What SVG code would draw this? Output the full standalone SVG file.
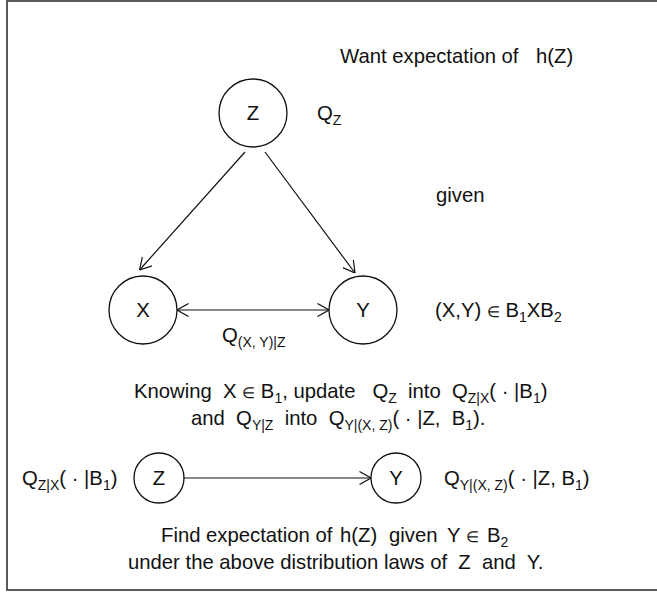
<svg xmlns="http://www.w3.org/2000/svg" width="657" height="593" viewBox="0 0 657 593">
<defs>
<style>
text{font-family:"Liberation Sans",Arial,sans-serif;font-size:20.3px;fill:#111;white-space:pre}
.c{text-anchor:middle}
.s{font-size:14px}
.e{font-size:15px}
.node{fill:none;stroke:#111;stroke-width:1.3}
.edge{fill:none;stroke:#111;stroke-width:1.2}
</style>
<marker id="ah" viewBox="0 0 12 14" refX="12" refY="7" markerWidth="12" markerHeight="14" markerUnits="userSpaceOnUse" orient="auto-start-reverse">
<path d="M0.5,0.5 L12,7 L0.5,13.5" fill="none" stroke="#111" stroke-width="1.2"/>
</marker>
</defs>
<rect x="0" y="0" width="657" height="593" fill="#fff"/>
<rect x="7" y="1" width="700" height="589" fill="none" stroke="#333" stroke-width="1.6"/>

<g id="connectors">
<line class="edge" x1="245" y1="152" x2="139.5" y2="270" marker-end="url(#ah)"/>
<line class="edge" x1="265" y1="152" x2="355" y2="273" marker-end="url(#ah)"/>
<line class="edge" x1="177" y1="310" x2="329" y2="310" marker-start="url(#ah)" marker-end="url(#ah)"/>
<line class="edge" x1="184" y1="478" x2="371" y2="478" marker-end="url(#ah)"/>
</g>

<g id="nodeZ"><circle class="node" cx="253" cy="113" r="34"/><text class="c" x="253" y="120">Z</text></g>
<g id="nodeX"><circle class="node" cx="143" cy="310" r="34"/><text class="c" x="143" y="317">X</text></g>
<g id="nodeY"><circle class="node" cx="363" cy="310" r="34"/><text class="c" x="363" y="317">Y</text></g>
<g id="nodeZ2"><circle class="node" cx="159" cy="478" r="25"/><text class="c" x="159" y="485">Z</text></g>
<g id="nodeY2"><circle class="node" cx="396" cy="478" r="25"/><text class="c" x="396" y="485">Y</text></g>

<g id="labels">
<text x="340" y="63">Want expectation of</text>
<text x="536" y="63">h(Z)</text>
<text x="317" y="120">Q<tspan class="s" dy="5">Z</tspan></text>
<text x="436" y="202">given</text>
<text x="435" y="317">(X,Y) <tspan class="e">∈</tspan> B<tspan class="s" dy="5">1</tspan><tspan dy="-5">XB</tspan><tspan class="s" dy="5">2</tspan></text>
<text x="222" y="342">Q<tspan class="s" dy="5">(X, Y)|Z</tspan></text>
<text x="134" y="398">Knowing  X <tspan class="e">∈</tspan> B<tspan class="s" dy="5">1</tspan><tspan dy="-5">, update   Q</tspan><tspan class="s" dy="5">Z</tspan><tspan dy="-5">  into  Q</tspan><tspan class="s" dy="5">Z|X</tspan><tspan dy="-5">( · |B</tspan><tspan class="s" dy="5">1</tspan><tspan dy="-5">)</tspan></text>
<text x="191" y="425">and  Q<tspan class="s" dy="5">Y|Z</tspan><tspan dy="-5">  into  Q</tspan><tspan class="s" dy="5">Y|(X, Z)</tspan><tspan dy="-5">( · |Z,  B</tspan><tspan class="s" dy="5">1</tspan><tspan dy="-5">).</tspan></text>
<text x="22" y="485">Q<tspan class="s" dy="5">Z|X</tspan><tspan dy="-5">( · |B</tspan><tspan class="s" dy="5">1</tspan><tspan dy="-5">)</tspan></text>
<text x="444" y="485">Q<tspan class="s" dy="5">Y|(X, Z)</tspan><tspan dy="-5">( · |Z, B</tspan><tspan class="s" dy="5">1</tspan><tspan dy="-5">)</tspan></text>
<text x="161" y="542">Find expectation of<tspan x="340">h(Z)</tspan><tspan x="389">given</tspan><tspan x="447">Y</tspan><tspan class="e" x="466">∈</tspan><tspan x="487">B</tspan><tspan class="s" dy="5">2</tspan></text>
<text x="128" y="569">under the above distribution laws of  Z  and  Y.</text>
</g>
</svg>
